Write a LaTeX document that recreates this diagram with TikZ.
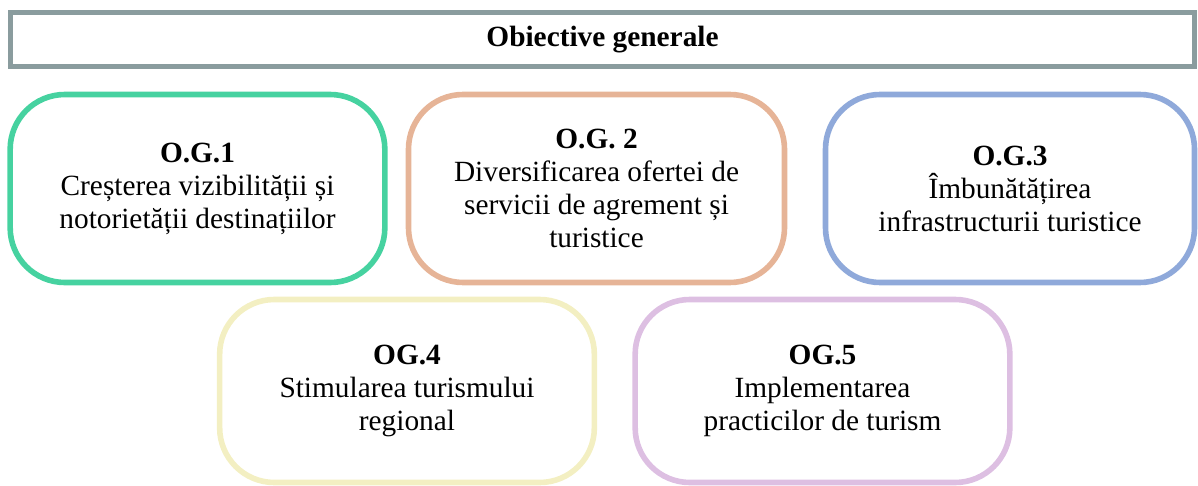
\documentclass[tikz,border=0pt]{standalone}
\usepackage{fontspec}
\setmainfont{Liberation Serif}
\usepackage{tikz}
\definecolor{gritit}{HTML}{8A9C9E}
\definecolor{ogverde}{HTML}{46D2A0}
\definecolor{ogsomon}{HTML}{E6B497}
\definecolor{ogalbastru}{HTML}{8FA9DA}
\definecolor{oggalben}{HTML}{F3EFC2}
\definecolor{oglila}{HTML}{DDBFE2}
\tikzstyle{titlu} = [draw=gritit, line width=4pt, rectangle, minimum width=888pt, minimum height=40.5pt, inner sep=0pt, font=\fontsize{22}{24.75}\selectfont\bfseries]
\tikzstyle{obiectiv} = [line width=4.2pt, rectangle, rounded corners=41pt, minimum width=281pt, minimum height=141pt, inner sep=0pt, align=center, font=\fontsize{22}{24.75}\selectfont]

\begin{document}
\begin{tikzpicture}[x=0.75pt, y=-0.75pt]
		\useasboundingbox (0,0) rectangle (1198,485);
		\node[titlu](titlu) at (602.5,39.5) {Obiective generale};
		\node[obiectiv, draw=ogverde](og1) at (197.5,188.5) {\textbf{O.G.1}\\Creșterea vizibilității și\\notorietății destinațiilor};
		\node[obiectiv, draw=ogsomon, minimum width=282pt](og2) at (596.5,188.5) {\textbf{O.G. 2}\\Diversificarea ofertei de\\servicii de agrement și\\turistice};
		\node[obiectiv, draw=ogalbastru, minimum width=276.75pt](og3) at (1010,188.5) {\textbf{O.G.3}\\Îmbunătățirea\\infrastructurii turistice};
		\node[obiectiv, draw=oggalben, minimum height=137.25pt](og4) at (407,391) {\textbf{OG.4}\\Stimularea turismului\\regional};
		\node[obiectiv, draw=oglila, minimum height=137.25pt](og5) at (822.5,391) {\textbf{OG.5}\\Implementarea\\practicilor de turism};
	\end{tikzpicture}
\end{document}
